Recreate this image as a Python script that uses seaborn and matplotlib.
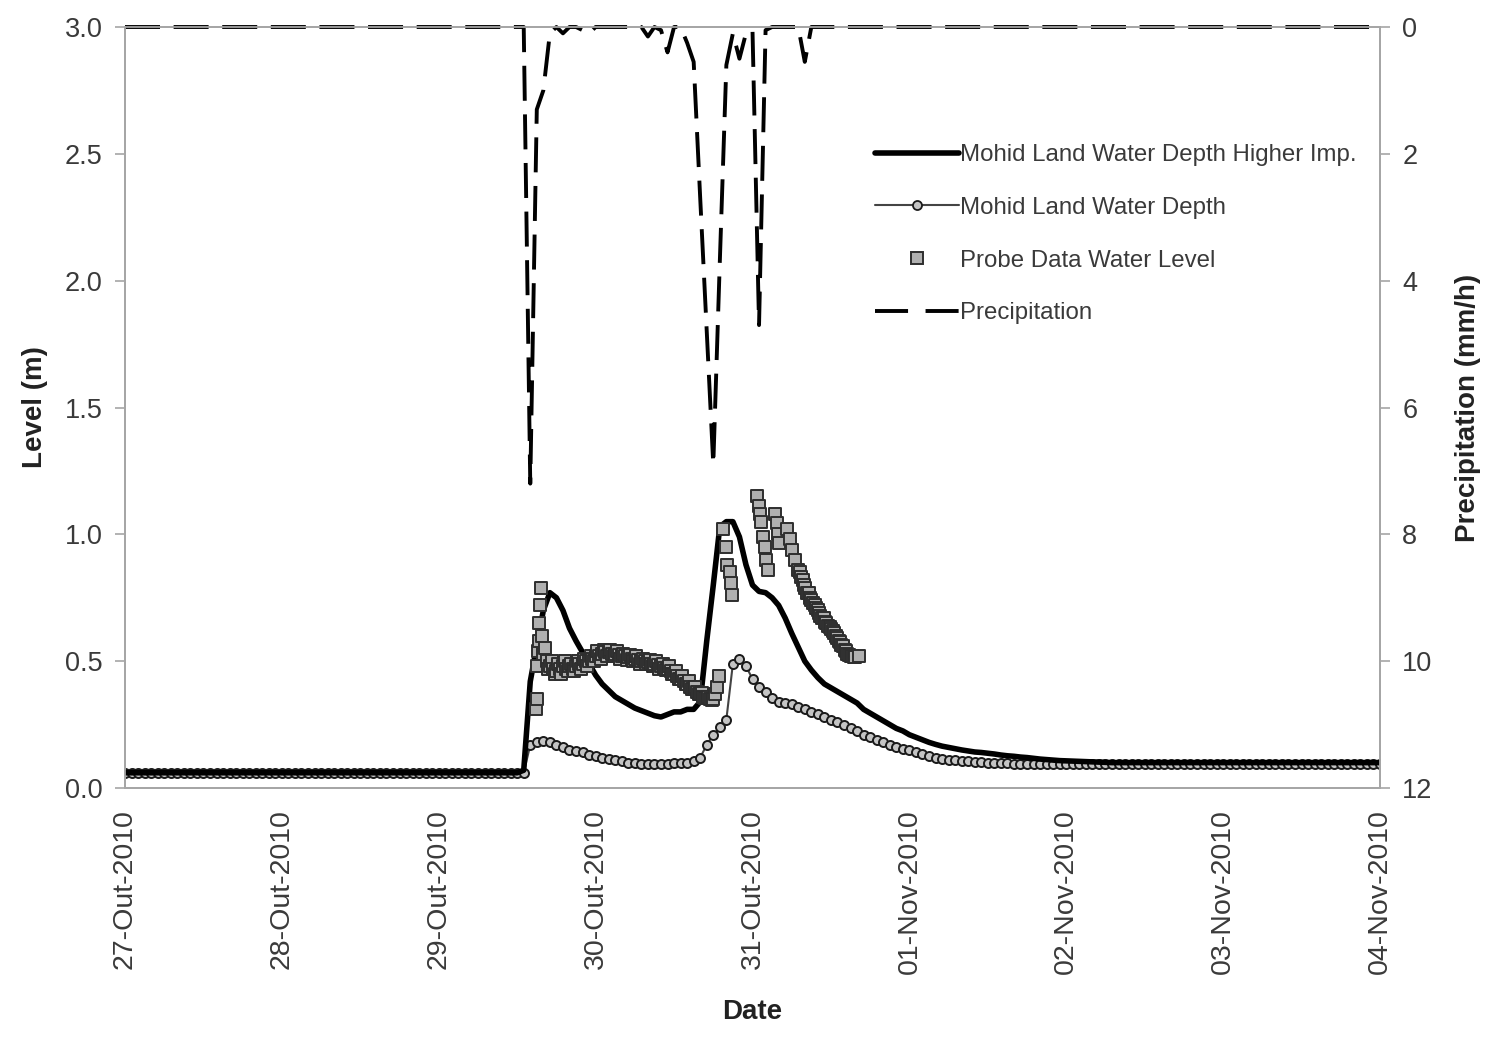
import numpy as np
import pandas as pd
import matplotlib
matplotlib.use("Agg")
import matplotlib.pyplot as plt
import seaborn as sns
from matplotlib.lines import Line2D

# ---------------- data (hours since 27-Out-2010 00:00) ----------------
hours = np.arange(0, 193)

higher_imp = [
    0.06, 0.06, 0.06, 0.06, 0.06, 0.06, 0.06, 0.06, 0.06, 0.06, 0.06, 0.06,
    0.06, 0.06, 0.06, 0.06, 0.06, 0.06, 0.06, 0.06, 0.06, 0.06, 0.06, 0.06,
    0.06, 0.06, 0.06, 0.06, 0.06, 0.06, 0.06, 0.06, 0.06, 0.06, 0.06, 0.06,
    0.06, 0.06, 0.06, 0.06, 0.06, 0.06, 0.06, 0.06, 0.06, 0.06, 0.06, 0.06,
    0.06, 0.06, 0.06, 0.06, 0.06, 0.06, 0.06, 0.06, 0.06, 0.06, 0.06, 0.06,
    0.06, 0.07, 0.42, 0.56, 0.70, 0.77, 0.75, 0.70, 0.63, 0.58, 0.535, 0.49,
    0.445, 0.41, 0.385, 0.36, 0.345, 0.33, 0.315, 0.305, 0.295, 0.285, 0.28, 0.29,
    0.30, 0.30, 0.31, 0.31, 0.34, 0.58, 0.80, 1.03, 1.05, 1.05, 0.99, 0.88,
    0.80, 0.775, 0.77, 0.75, 0.72, 0.67, 0.61, 0.555, 0.50, 0.465, 0.435, 0.41,
    0.395, 0.38, 0.365, 0.35, 0.335, 0.31, 0.295, 0.28, 0.265, 0.25, 0.235, 0.225,
    0.21, 0.20, 0.19, 0.18, 0.172, 0.165, 0.16, 0.155, 0.15, 0.146, 0.142, 0.14,
    0.137, 0.134, 0.13, 0.127, 0.125, 0.122, 0.12, 0.117, 0.114, 0.112, 0.11, 0.108,
    0.107, 0.106, 0.105, 0.104, 0.103, 0.102, 0.101, 0.10, 0.10, 0.10, 0.10, 0.10,
    0.10, 0.10, 0.10, 0.10, 0.10, 0.10, 0.10, 0.10, 0.10, 0.10, 0.10, 0.10,
    0.10, 0.10, 0.10, 0.10, 0.10, 0.10, 0.10, 0.10, 0.10, 0.10, 0.10, 0.10,
    0.10, 0.10, 0.10, 0.10, 0.10, 0.10, 0.10, 0.10, 0.10, 0.10, 0.10, 0.10,
    0.10,
]

mohid_depth = [
    0.06, 0.06, 0.06, 0.06, 0.06, 0.06, 0.06, 0.06, 0.06, 0.06, 0.06, 0.06,
    0.06, 0.06, 0.06, 0.06, 0.06, 0.06, 0.06, 0.06, 0.06, 0.06, 0.06, 0.06,
    0.06, 0.06, 0.06, 0.06, 0.06, 0.06, 0.06, 0.06, 0.06, 0.06, 0.06, 0.06,
    0.06, 0.06, 0.06, 0.06, 0.06, 0.06, 0.06, 0.06, 0.06, 0.06, 0.06, 0.06,
    0.06, 0.06, 0.06, 0.06, 0.06, 0.06, 0.06, 0.06, 0.06, 0.06, 0.06, 0.06,
    0.06, 0.06, 0.17, 0.18, 0.185, 0.18, 0.17, 0.16, 0.15, 0.145, 0.14, 0.13,
    0.125, 0.12, 0.115, 0.11, 0.105, 0.10, 0.10, 0.095, 0.095, 0.095, 0.095, 0.095,
    0.10, 0.10, 0.10, 0.105, 0.12, 0.17, 0.21, 0.24, 0.27, 0.49, 0.51, 0.48,
    0.43, 0.40, 0.38, 0.355, 0.34, 0.335, 0.33, 0.32, 0.31, 0.30, 0.29, 0.28,
    0.27, 0.26, 0.25, 0.235, 0.225, 0.21, 0.20, 0.19, 0.18, 0.17, 0.162, 0.155,
    0.148, 0.14, 0.133, 0.127, 0.12, 0.115, 0.112, 0.11, 0.108, 0.106, 0.104, 0.102,
    0.10, 0.099, 0.098, 0.097, 0.096, 0.095, 0.095, 0.095, 0.095, 0.095, 0.095, 0.095,
    0.095, 0.095, 0.095, 0.095, 0.095, 0.095, 0.095, 0.095, 0.095, 0.095, 0.095, 0.095,
    0.095, 0.095, 0.095, 0.095, 0.095, 0.095, 0.095, 0.095, 0.095, 0.095, 0.095, 0.095,
    0.095, 0.095, 0.095, 0.095, 0.095, 0.095, 0.095, 0.095, 0.095, 0.095, 0.095, 0.095,
    0.095, 0.095, 0.095, 0.095, 0.095, 0.095, 0.095, 0.095, 0.095, 0.095, 0.095, 0.095,
    0.095,
]

precipitation = [
    0, 0, 0, 0, 0, 0, 0, 0, 0, 0, 0, 0,
    0, 0, 0, 0, 0, 0, 0, 0, 0, 0, 0, 0,
    0, 0, 0, 0, 0, 0, 0, 0, 0, 0, 0, 0,
    0, 0, 0, 0, 0, 0, 0, 0, 0, 0, 0, 0,
    0, 0, 0, 0, 0, 0, 0, 0, 0, 0, 0, 0,
    0, 0, 7.2, 1.3, 1.0, 0.1, 0, 0.1, 0, 0, 0.05, 0.1,
    0, 0, 0, 0, 0, 0, 0, 0, 0.15, 0, 0.05, 0.4,
    0, 0, 0.25, 0.55, 2.7, 4.8, 6.9, 3.7, 0.6, 0.1, 0.5, 0.1,
    0.05, 4.7, 0.05, 0, 0, 0, 0, 0, 0.55, 0, 0, 0,
    0, 0, 0, 0, 0, 0, 0, 0, 0, 0, 0, 0,
    0, 0, 0, 0, 0, 0, 0, 0, 0, 0, 0, 0,
    0, 0, 0, 0, 0, 0, 0, 0, 0, 0, 0, 0,
    0, 0, 0, 0, 0, 0, 0, 0, 0, 0, 0, 0,
    0, 0, 0, 0, 0, 0, 0, 0, 0, 0, 0, 0,
    0, 0, 0, 0, 0, 0, 0, 0, 0, 0, 0, 0,
    0, 0, 0, 0, 0, 0, 0, 0, 0, 0, 0, 0,
    0,
]

# probe readings as (hour, level) pairs
probe_points = [
    (62.9, 0.31), (63.0, 0.35), (63.1, 0.48), (63.2, 0.54), (63.3, 0.58),
    (63.4, 0.65), (63.5, 0.72), (63.6, 0.79), (63.8, 0.60), (64.0, 0.53),
    (64.25, 0.55), (64.5, 0.50), (64.75, 0.47), (65.0, 0.48), (65.25, 0.50),
    (65.5, 0.47), (65.75, 0.45), (66.0, 0.46), (66.25, 0.49), (66.5, 0.47),
    (66.75, 0.45), (67.0, 0.48), (67.25, 0.50), (67.5, 0.47), (67.75, 0.46),
    (68.0, 0.48), (68.25, 0.49), (68.5, 0.47), (68.75, 0.46), (69.0, 0.48),
    (69.25, 0.50), (69.5, 0.49), (69.75, 0.47), (70.0, 0.49), (70.25, 0.51),
    (70.5, 0.50), (70.75, 0.48), (71.0, 0.50), (71.25, 0.52), (71.5, 0.51),
    (71.75, 0.50), (72.0, 0.52), (72.25, 0.54), (72.5, 0.52), (72.75, 0.51),
    (73.0, 0.53), (73.25, 0.545), (73.5, 0.535), (73.75, 0.52), (74.0, 0.535),
    (74.25, 0.545), (74.5, 0.53), (74.75, 0.52), (75.0, 0.53), (75.25, 0.54),
    (75.5, 0.525), (75.75, 0.51), (76.0, 0.52), (76.25, 0.53), (76.5, 0.52),
    (76.75, 0.505), (77.0, 0.515), (77.25, 0.525), (77.5, 0.51), (77.75, 0.50),
    (78.0, 0.51), (78.25, 0.52), (78.5, 0.505), (78.75, 0.49), (79.0, 0.50),
    (79.25, 0.51), (79.5, 0.50), (79.75, 0.49), (80.0, 0.495), (80.25, 0.505),
    (80.5, 0.49), (80.75, 0.48), (81.0, 0.49), (81.25, 0.50), (81.5, 0.485),
    (81.75, 0.47), (82.0, 0.48), (82.25, 0.49), (82.5, 0.475), (82.75, 0.465),
    (83.0, 0.47), (83.25, 0.48), (83.5, 0.46), (83.75, 0.45), (84.0, 0.45),
    (84.25, 0.46), (84.5, 0.44), (84.75, 0.43), (85.0, 0.43), (85.25, 0.44),
    (85.5, 0.42), (85.75, 0.41), (86.0, 0.41), (86.25, 0.42), (86.5, 0.40),
    (86.75, 0.39), (87.0, 0.39), (87.25, 0.40), (87.5, 0.38), (87.75, 0.37),
    (88.0, 0.37), (88.25, 0.375), (88.5, 0.36), (88.75, 0.355), (89.0, 0.355),
    (89.25, 0.36), (89.5, 0.35), (89.75, 0.345), (90.0, 0.35), (90.3, 0.37),
    (90.6, 0.40), (90.9, 0.44), (91.5, 1.02), (91.9, 0.95), (92.1, 0.88),
    (92.5, 0.85), (92.7, 0.81), (92.9, 0.76),
    (96.7, 1.15), (97.0, 1.11), (97.1, 1.08), (97.3, 1.05), (97.6, 0.99),
    (97.9, 0.95), (98.0, 0.90), (98.4, 0.86), (99.4, 1.08), (99.7, 1.045),
    (99.9, 1.00), (100.0, 0.965), (101.3, 1.02), (101.8, 0.98), (102.0, 0.94),
    (102.5, 0.90), (102.9, 0.86), (103.2, 0.85), (103.4, 0.83), (103.7, 0.82),
    (103.9, 0.80), (104.1, 0.79), (104.3, 0.77), (104.6, 0.77), (104.8, 0.75),
    (105.0, 0.74), (105.2, 0.73), (105.5, 0.72), (105.7, 0.71), (106.0, 0.70),
    (106.2, 0.69), (106.4, 0.68), (106.6, 0.67), (106.9, 0.67), (107.1, 0.655),
    (107.3, 0.65), (107.5, 0.64), (107.8, 0.635), (108.0, 0.625), (108.3, 0.62),
    (108.5, 0.61), (108.7, 0.60), (108.9, 0.59), (109.2, 0.58), (109.4, 0.575),
    (109.6, 0.565), (109.8, 0.56), (110.1, 0.545), (110.3, 0.54), (110.5, 0.53),
    (110.7, 0.525), (111.0, 0.52), (111.2, 0.52), (111.5, 0.515), (111.7, 0.515),
    (112.3, 0.52),
]
probe_hours = [p[0] for p in probe_points]
probe_level = [p[1] for p in probe_points]

tick_hours = [0, 24, 48, 72, 96, 120, 144, 168, 192]
tick_labels = ["27-Out-2010", "28-Out-2010", "29-Out-2010", "30-Out-2010",
               "31-Out-2010", "01-Nov-2010", "02-Nov-2010", "03-Nov-2010",
               "04-Nov-2010"]
level_ticks = [0.0, 0.5, 1.0, 1.5, 2.0, 2.5, 3.0]
precip_ticks = [0, 2, 4, 6, 8, 10, 12]

series_names = ["Mohid Land Water Depth Higher Imp.", "Mohid Land Water Depth",
                "Probe Data Water Level", "Precipitation"]

# ---------------- style ----------------
sns.set_style("white")
plt.rcParams["font.family"] = ["Liberation Sans", "DejaVu Sans"]

SPINE = "#a6a6a6"
TXT = "#3a3a3a"

fig = plt.figure(figsize=(14.91, 10.37), dpi=100)
ax = fig.add_axes([125 / 1491, 1 - 788 / 1037, (1380 - 125) / 1491, (788 - 27) / 1037])
ax2 = ax.twinx()

model_df = pd.DataFrame({"hour": hours, "higher": higher_imp,
                         "mohid": mohid_depth, "precip": precipitation})
probe_df = pd.DataFrame({"hour": probe_hours, "level": probe_level})

sns.lineplot(data=model_df, x="hour", y="mohid", ax=ax, color="#444444",
             linewidth=1.5, marker="o", markersize=6.5, markerfacecolor="#c4c4c4",
             markeredgecolor="#1a1a1a", markeredgewidth=1.4, legend=False, zorder=2)
sns.lineplot(data=model_df, x="hour", y="higher", ax=ax, color="black",
             linewidth=4.0, legend=False, zorder=3)
sns.scatterplot(data=probe_df, x="hour", y="level", ax=ax, marker="s", s=64,
                color="#b0b0b0", edgecolor="#2e2e2e", linewidth=1.4, legend=False,
                zorder=4)
sns.lineplot(data=model_df, x="hour", y="precip", ax=ax2, color="black",
             linewidth=2.8, legend=False)
pl = ax2.lines[-1]
pl.set_dashes((9, 3.5))
pl.set_clip_on(False)

# axes limits and ticks
ax.set_xlim(0, 192)
ax.set_ylim(0, 3.0)
ax2.set_ylim(12, 0)
ax.set_xticks(tick_hours)
ax.set_xticklabels(tick_labels, rotation=90)
ax.set_yticks(level_ticks)
ax.set_yticklabels([f"{v:.1f}" for v in level_ticks])
ax2.set_yticks(precip_ticks)
ax2.set_yticklabels([str(v) for v in precip_ticks])

for a in (ax, ax2):
    for s in a.spines.values():
        s.set_color(SPINE)
        s.set_linewidth(1.3)
        s.set_visible(True)
    a.grid(False)

ax.tick_params(axis="y", direction="out", length=7, width=1.2, color=SPINE,
               labelsize=19.5, labelcolor=TXT, pad=9)
ax.tick_params(axis="x", direction="out", length=7, width=1.2, color=SPINE,
               labelsize=20.5, labelcolor=TXT, pad=8)
ax2.tick_params(axis="y", direction="out", length=7, width=1.2, color=SPINE,
                labelsize=19.5, labelcolor=TXT, pad=9)

ax.set_xlabel("Date", fontsize=20, fontweight="bold", color="#222222", labelpad=18)
ax.set_ylabel("Level (m)", fontsize=20, fontweight="bold", color="#222222", labelpad=12)
ax2.set_ylabel("Precipitation (mm/h)", fontsize=20, fontweight="bold", color="#222222",
               labelpad=16)

# legend
handles = [
    Line2D([], [], color="black", lw=4.0),
    Line2D([], [], color="#444444", lw=1.5, marker="o", ms=6.5, mfc="#c4c4c4",
           mec="#1a1a1a", mew=1.3),
    Line2D([], [], ls="none", marker="s", ms=8, mfc="#b0b0b0", mec="#2e2e2e", mew=1.4),
    Line2D([], [], color="black", lw=2.8, dashes=(8.5, 4.5)),
]
leg = ax2.legend(handles, series_names, loc="upper left",
                 bbox_to_anchor=((875 - 125) / 1255, (788 - 144) / 761),
                 frameon=False, fontsize=17.3, handlelength=3.5, handletextpad=0.05,
                 labelspacing=1.28, borderaxespad=0, borderpad=0)
for t in leg.get_texts():
    t.set_color(TXT)

fig.savefig("out.png", dpi=100)
